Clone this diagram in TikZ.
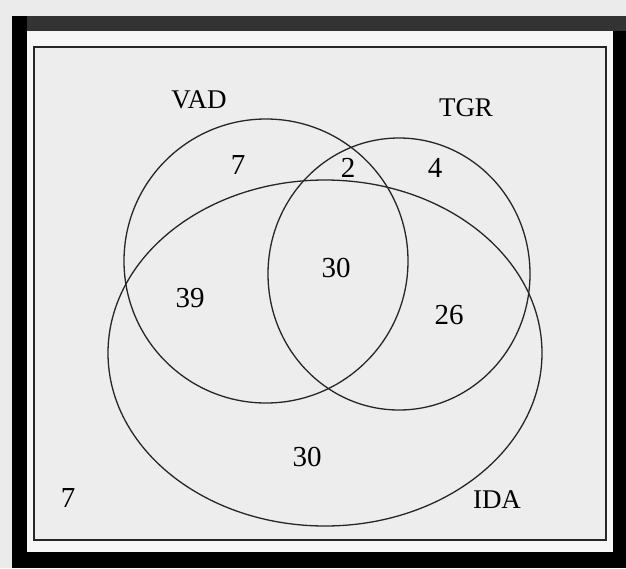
\documentclass[tikz,border=0pt]{standalone}
\usepackage{fontspec}
\setmainfont{Liberation Serif}
\begin{document}
\begin{tikzpicture}[x=1pt,y=-1pt,
  region/.style={draw=black!85, line width=1.3pt},
  setname/.style={font=\fontsize{27}{29}\selectfont, inner sep=0pt},
  count/.style={font=\fontsize{29}{31}\selectfont, inner sep=0pt}]
  \useasboundingbox (0,0) rectangle (626,568);
  % paper and frame
  \fill[black!8] (0,0) rectangle (626,568);
  \fill[black] (12,16) rectangle (626,568);
  \fill[black!80] (27,16) rectangle (626,31);
  \fill[black!3] (27,31) rectangle (613,552);
  \filldraw[fill=black!7, draw=black!85, line width=1.5pt] (34,47) rectangle (606,540);
  % the three sets
  \draw[region] (266,261) circle (142);
  \draw[region] (399,274) circle [x radius=131, y radius=136];
  \draw[region] (325,353) circle [x radius=217, y radius=173];
  % set names
  \node[setname] (vad) at (199,100) {VAD};
  \node[setname] (tgr) at (466,108) {TGR};
  \node[setname] (ida) at (497,500) {IDA};
  % counts
  \node[count] (vadonly) at (238,165) {7};
  \node[count] (vadtgr) at (348,168) {2};
  \node[count] (tgronly) at (435,168) {4};
  \node[count] (all) at (336,268) {30};
  \node[count] (vadida) at (190,298) {39};
  \node[count] (tgrida) at (449,315) {26};
  \node[count] (idaonly) at (307,457) {30};
  \node[count] (none) at (68,498) {7};
\end{tikzpicture}
\end{document}
